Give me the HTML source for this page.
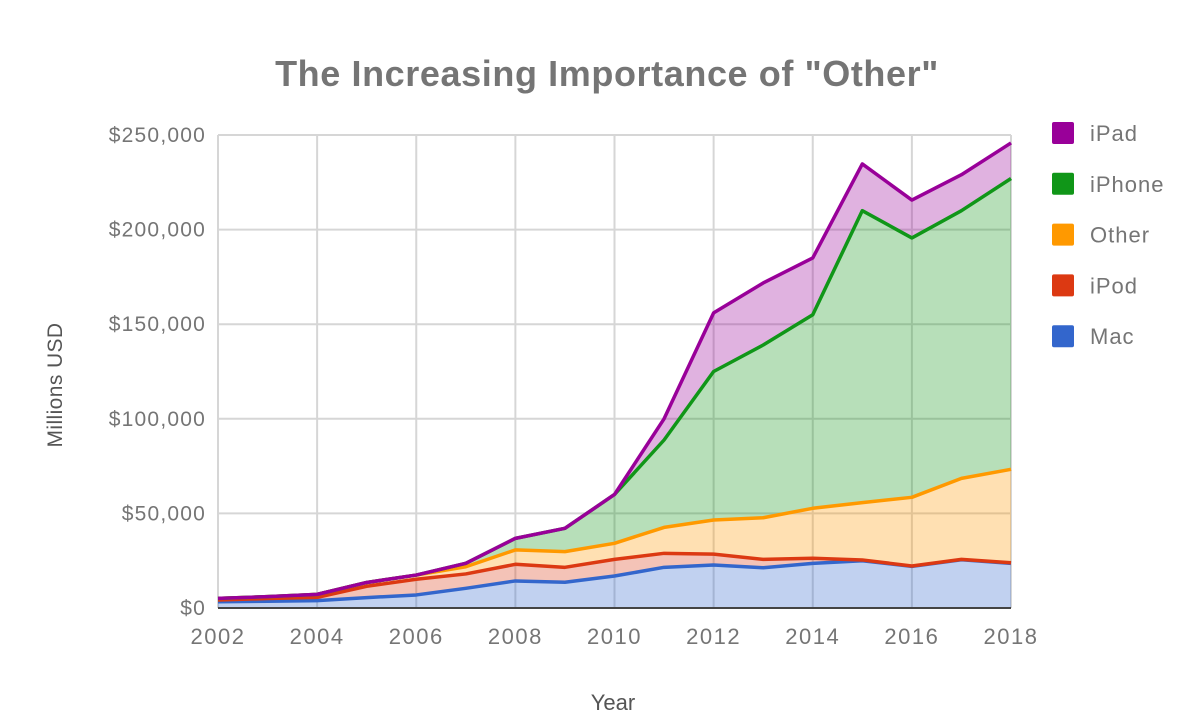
<!DOCTYPE html>
<html><head><meta charset="utf-8"><style>
html,body{margin:0;padding:0;background:#fff;width:1200px;height:724px;overflow:hidden}
svg text{font-family:"Liberation Sans",sans-serif}
</style></head><body>
<svg id="c" width="1200" height="724">
<text x="607" y="86" text-anchor="middle" font-size="36" font-weight="bold" fill="#757575" letter-spacing="0.6">The Increasing Importance of "Other"</text>
<text x="613" y="710" text-anchor="middle" font-size="22" fill="#555">Year</text>
<text transform="translate(62,385) rotate(-90)" text-anchor="middle" font-size="21" fill="#555" letter-spacing="0.4">Millions USD</text>
<g id="grid"></g><g id="areas"></g><g id="lines"></g><g id="axes"></g><g id="legend"></g>
</svg>
<script>
const years=[2002,2003,2004,2005,2006,2007,2008,2009,2010,2011,2012,2013,2014,2015,2016,2017,2018];
const mac=[3300,3600,3900,5500,6900,10400,14300,13600,16900,21500,22700,21300,23600,25000,22000,25500,23600];
const ipod=[900,1400,1700,6000,8300,7600,8800,7900,8800,7400,5800,4400,2700,400,200,200,300];
const other=[900,1000,1600,2000,2200,3800,7600,8300,8500,13700,18000,22000,26400,30300,36300,42800,49400];
const iphone=[0,0,0,0,0,1800,6100,12300,25800,46200,78500,91300,102300,154300,137100,141500,153700];
const ipad=[0,0,0,0,0,0,0,0,0,11200,31000,32800,30000,24700,20000,19000,18800];
const yTicks=[0,50000,100000,150000,200000,250000];
const yTickLabels=["$0","$50,000","$100,000","$150,000","$200,000","$250,000"];
const xTicks=[2002,2004,2006,2008,2010,2012,2014,2016,2018];
const names=["Mac","iPod","Other","iPhone","iPad"];
const colors=["#3366cc","#dc3912","#ff9900","#109618","#990099"];
const series=[mac,ipod,other,iphone,ipad];
const X0=218,X1=1011,Y0=608,Y1=135;
const xs=v=>X0+(v-2002)/(2018-2002)*(X1-X0);
const ys=v=>Y0-v/250000*(Y0-Y1);
const NS="http://www.w3.org/2000/svg";
function mk(t,a,p){const e=document.createElementNS(NS,t);for(const k in a)e.setAttribute(k,a[k]);p.appendChild(e);return e;}
const grid=document.getElementById('grid'),areas=document.getElementById('areas'),lines=document.getElementById('lines'),axes=document.getElementById('axes'),legend=document.getElementById('legend');
yTicks.forEach((t,i)=>{
 if(t>0){const l=mk('line',{x1:X0,x2:X1,y1:ys(t),y2:ys(t),stroke:'#d6d6d6','stroke-width':2},grid);
 
 }
 const tx=mk('text',{x:206,y:ys(t)+7,'text-anchor':'end','font-size':21,'letter-spacing':1.2,fill:'#757575'},axes);tx.textContent=yTickLabels[i];
 
 
});
xTicks.forEach(t=>{
 const l=mk('line',{x1:xs(t),x2:xs(t),y1:Y1,y2:Y0,stroke:'#d6d6d6','stroke-width':2},grid);
 
 
 const tx=mk('text',{x:xs(t),y:644,'text-anchor':'middle','font-size':22,'letter-spacing':1.5,fill:'#757575'},axes);tx.textContent=t;
 
 
});
let base=years.map(()=>0);
series.forEach((s,si)=>{
 const top=base.map((b,i)=>b+s[i]);
 let d='M'+years.map((y,i)=>xs(y)+','+ys(top[i])).join('L');
 d+='L'+years.map((y,i)=>xs(y)+','+ys(base[i])).reverse().join('L')+'Z';
 const a=mk('path',{d:d,fill:colors[si],'fill-opacity':0.3},areas);
 
 
 const l=mk('polyline',{points:years.map((y,i)=>xs(y)+','+ys(top[i])).join(' '),fill:'none',stroke:colors[si],'stroke-width':3.5,'stroke-linejoin':'round'},lines);
 
 
 base=top;
});
const ax=mk('line',{x1:X0,x2:X1,y1:Y0,y2:Y0,stroke:'#444','stroke-width':2},axes);


for(let i=4;i>=0;i--){
 const yy=133+(4-i)*50.8;
 const g=mk('g',{},legend);
 
 
 mk('rect',{x:1052,y:yy-11,width:22,height:22,rx:2,fill:colors[i]},g);
 const t=mk('text',{x:1090,y:yy+8,'font-size':22,'letter-spacing':1,fill:'#757575'},g);t.textContent=names[i];
}
</script>
</body></html>
